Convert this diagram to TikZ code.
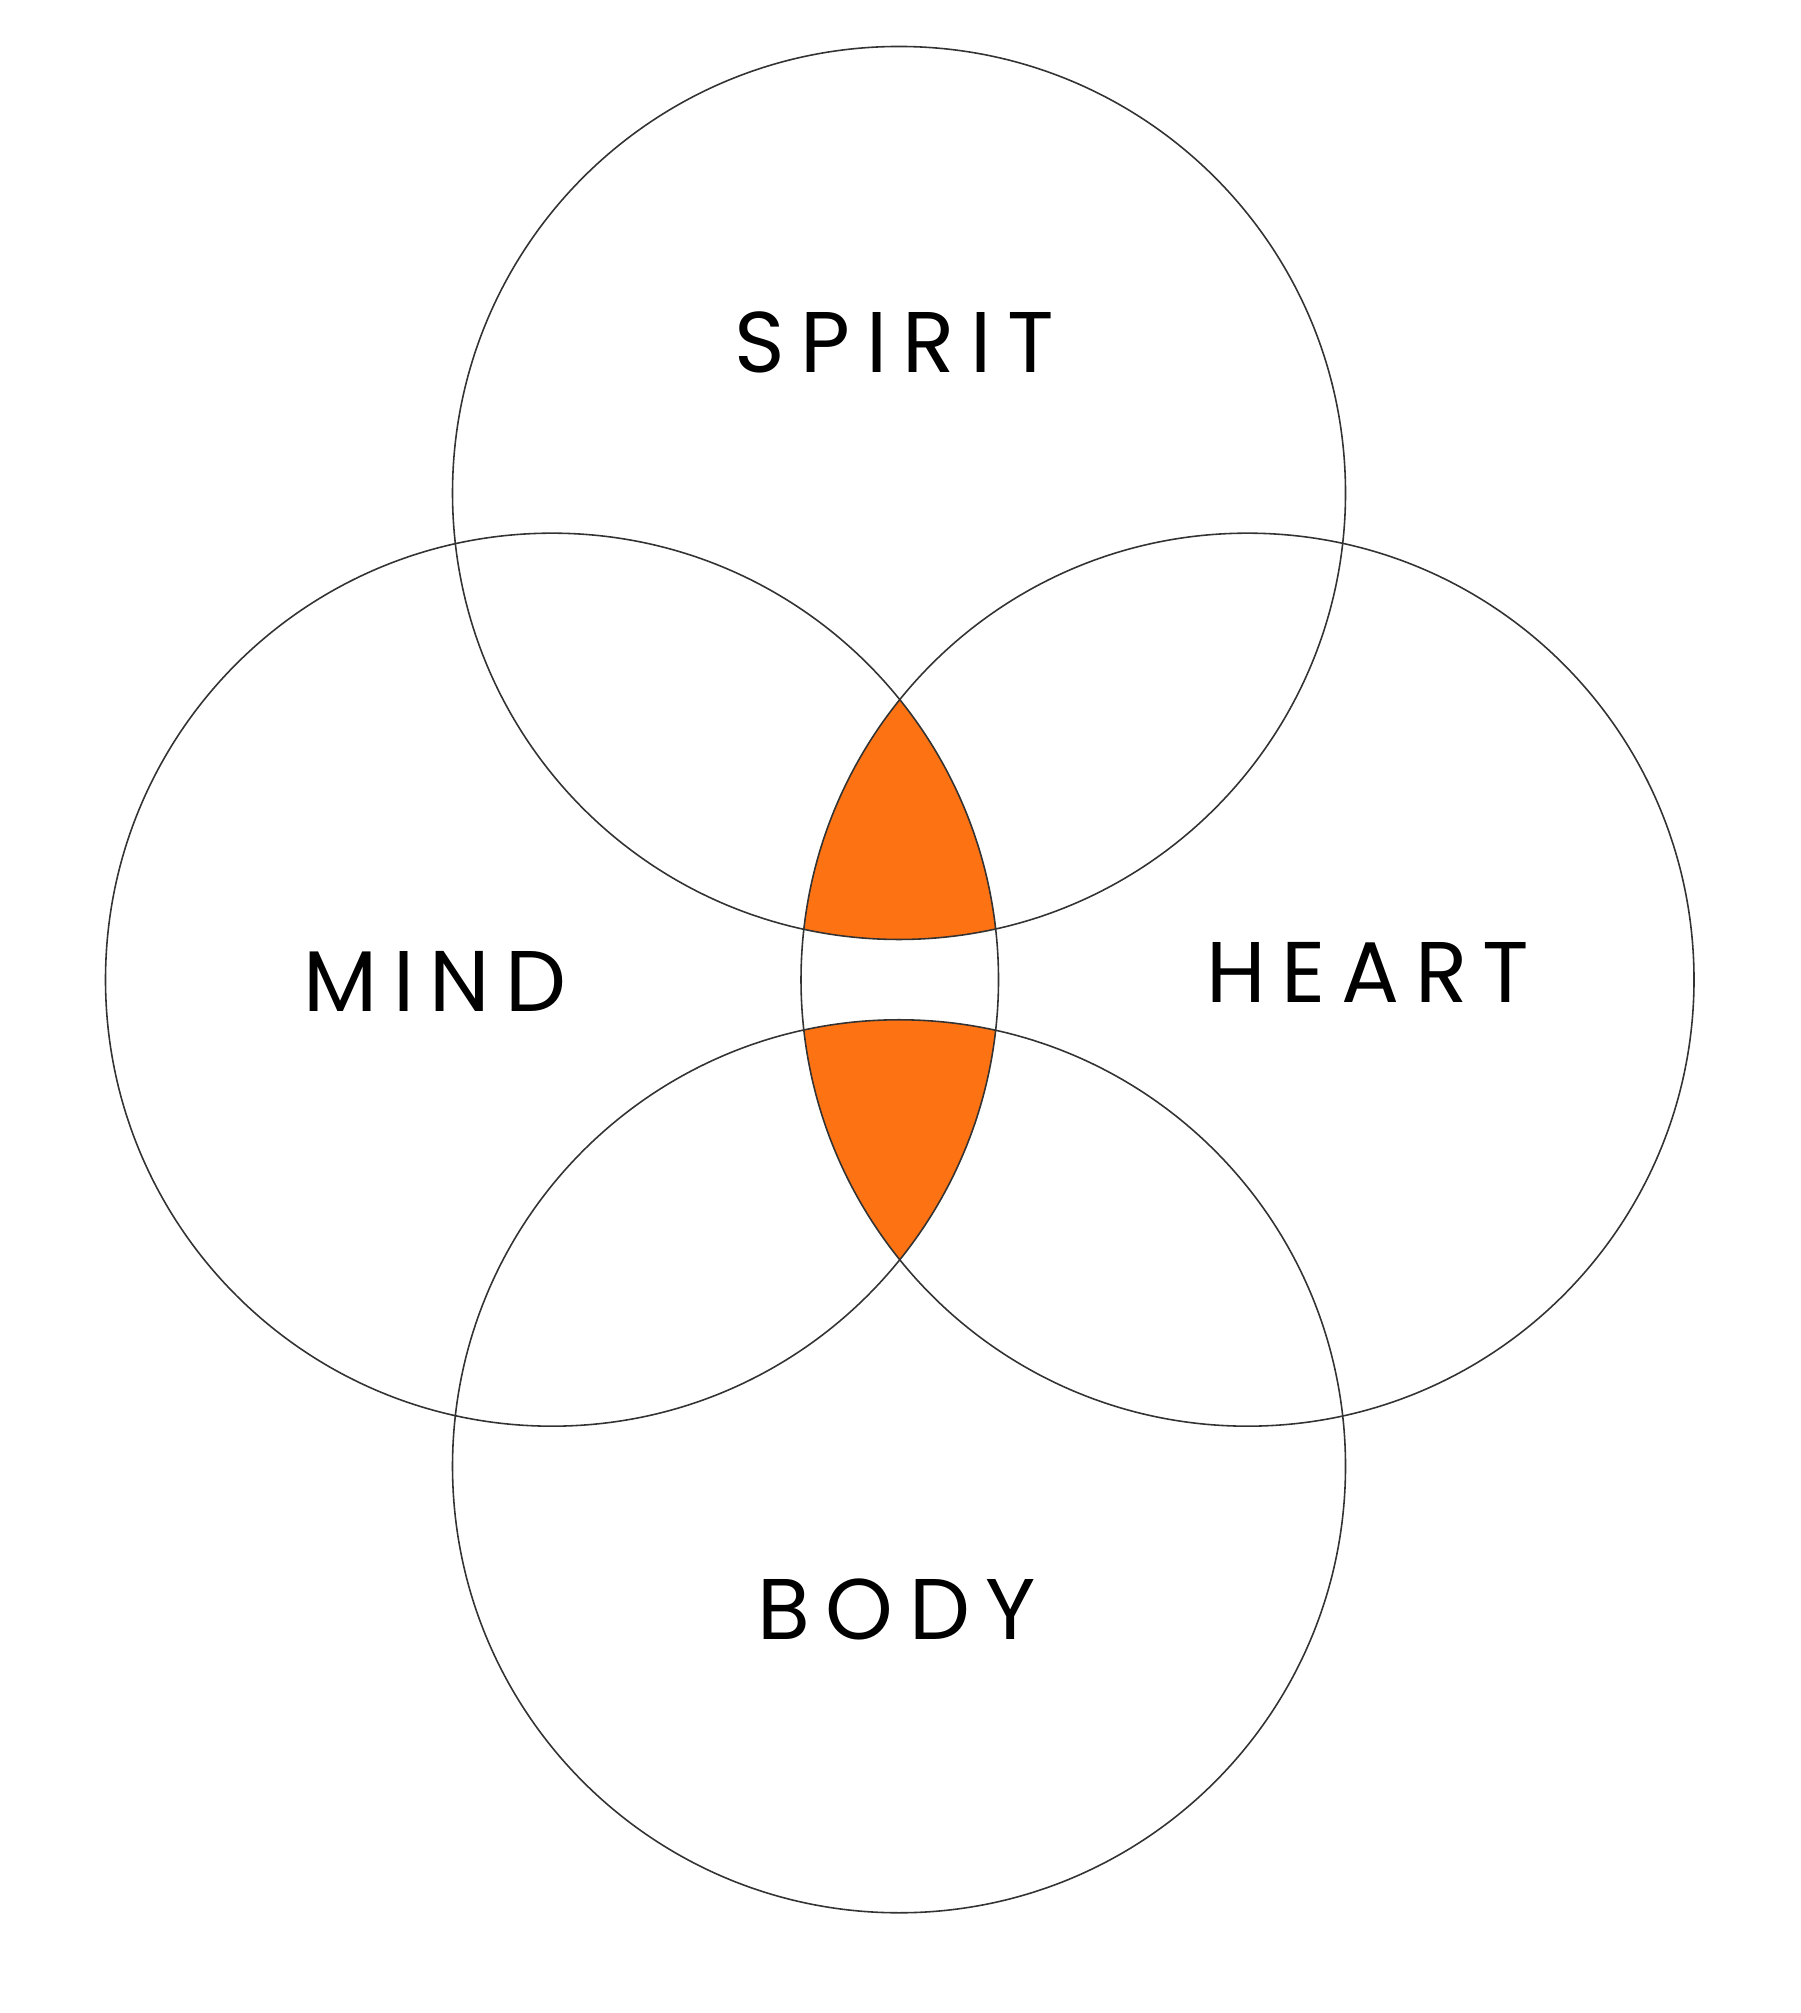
\documentclass[tikz,border=0pt]{standalone}
\usepackage{fontspec}
\setmainfont{Poppins}[LetterSpace=18]
\usepackage{tikz}
\usetikzlibrary{positioning}
\definecolor{lensorange}{HTML}{FD7213}
\definecolor{ringgray}{HTML}{333333}

\begin{document}
\begin{tikzpicture}[ring/.style={circle, draw=ringgray, line width=0.45pt, minimum size=8.93cm, inner sep=0pt},
	word/.style={font=\fontsize{24.5}{26}\selectfont, anchor=base west, inner sep=0pt}]
			\useasboundingbox (0,0) rectangle (18,20.13);
			% orange lenses
			\begin{scope}
				\clip (8.99,15.20) circle (4.465);
				\clip (5.52,10.333) circle (4.465);
				\fill[lensorange] (12.475,10.333) circle (4.465);
			\end{scope}
			\begin{scope}
				\clip (8.99,5.467) circle (4.465);
				\clip (5.52,10.333) circle (4.465);
				\fill[lensorange] (12.475,10.333) circle (4.465);
			\end{scope}
			
			% circles
			\node (spirit) at (8.99,15.20) [ring] {};
			\node (mind) at (5.52,10.333) [ring] {};
			\node (heart) at (12.475,10.333) [ring] {};
			\node (body) at (8.99,5.467) [ring] {};
			
			% labels
			\node (spiritlabel) at (7.34,16.40) [word] {SPIRIT};
			\node (mindlabel) at (3.03,10.01) [word] {MIND};
			\node (heartlabel) at (12.06,10.10) [word] {HEART};
			\node (bodylabel) at (7.57,3.73) [word] {BODY};
		\end{tikzpicture}
\end{document}
